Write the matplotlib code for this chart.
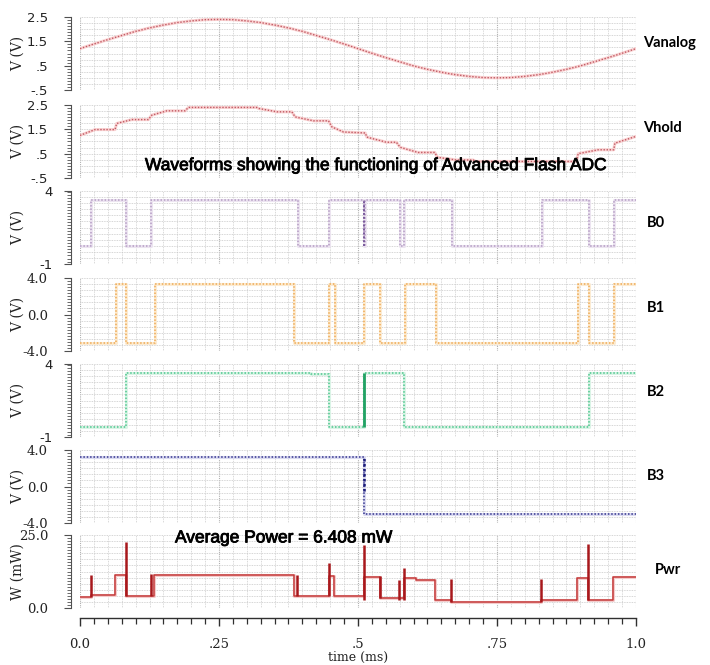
import numpy as np
import matplotlib
matplotlib.use("Agg")
import matplotlib.pyplot as plt
import matplotlib.patheffects as pe
from matplotlib.ticker import FixedLocator, MultipleLocator

# ---- data (time in ms) ----
vanalog_t = [0.0, 0.025, 0.05, 0.075, 0.1, 0.125, 0.15, 0.175, 0.2, 0.225,
             0.25, 0.275, 0.3, 0.325, 0.35, 0.375, 0.4, 0.425, 0.45, 0.475,
             0.5, 0.525, 0.55, 0.575, 0.6, 0.625, 0.65, 0.675, 0.7, 0.725,
             0.75, 0.775, 0.8, 0.825, 0.85, 0.875, 0.9, 0.925, 0.95, 0.975, 1.0]
vanalog_v = [1.20, 1.39, 1.57, 1.74, 1.91, 2.05, 2.17, 2.27, 2.34, 2.39,
             2.40, 2.39, 2.34, 2.27, 2.17, 2.05, 1.91, 1.74, 1.57, 1.39,
             1.20, 1.01, 0.83, 0.66, 0.49, 0.35, 0.23, 0.13, 0.06, 0.01,
             0.00, 0.01, 0.06, 0.13, 0.23, 0.35, 0.49, 0.66, 0.83, 1.01, 1.20]

vhold_t = [0.000, 0.027, 0.063, 0.066, 0.093, 0.123, 0.129, 0.156, 0.189, 0.195,
           0.318, 0.321, 0.354, 0.381, 0.387, 0.420, 0.447, 0.453, 0.474, 0.513,
           0.516, 0.551, 0.569, 0.576, 0.608, 0.638, 0.643, 0.677, 0.707, 0.712,
           0.893, 0.896, 0.932, 0.960, 0.962, 1.000]
vhold_v = [1.25, 1.49, 1.49, 1.74, 1.90, 1.90, 2.08, 2.26, 2.26, 2.40,
           2.40, 2.36, 2.22, 2.22, 2.01, 1.85, 1.85, 1.60, 1.39, 1.35,
           1.18, 0.97, 0.97, 0.76, 0.55, 0.55, 0.35, 0.24, 0.24, 0.18,
           0.18, 0.50, 0.66, 0.66, 0.93, 1.21]

b0_t = [0.0, 0.020, 0.082, 0.128, 0.392, 0.447, 0.510, 0.512, 0.576, 0.583,
        0.669, 0.831, 0.916, 0.960, 1.0]
b0_v = [0.2, 3.4, 0.2, 3.4, 0.2, 3.4, 0.2, 3.4, 0.2, 3.4,
        0.2, 3.4, 0.2, 3.4, 3.4]

b1_t = [0.0, 0.064, 0.082, 0.134, 0.384, 0.448, 0.458, 0.510, 0.539, 0.585,
        0.640, 0.896, 0.916, 0.961, 1.0]
b1_v = [-3.1, 3.3, -3.1, 3.3, -3.1, 3.3, -3.1, 3.3, -3.1, 3.3,
        -3.1, 3.3, -3.1, 3.3, 3.3]

b2_t = [0.0, 0.082, 0.416, 0.447, 0.511, 0.583, 0.916, 1.0]
b2_v = [-0.3, 3.4, 3.3, -0.3, 3.4, -0.3, 3.4, 3.4]

b3_t = [0.0, 0.511, 1.0]
b3_v = [3.25, -3.0, -3.0]

# power: step levels plus short spikes
pwr_t = [0.0, 0.019, 0.063, 0.083, 0.133, 0.384, 0.447, 0.457, 0.511, 0.540,
         0.582, 0.605, 0.638, 0.668, 0.830, 0.893, 0.914, 0.959, 1.0]
pwr_v = [3.6, 4.3, 11.3, 4.0, 11.3, 4.0, 11.0, 4.2, 10.5, 3.3,
         10.2, 9.6, 2.9, 2.2, 2.9, 10.2, 2.9, 10.5, 10.5]
spike_t = [0.019, 0.083, 0.127, 0.391, 0.447, 0.511, 0.540, 0.573, 0.582, 0.668, 0.830, 0.914]
spike_lo = [3.6, 4.0, 4.0, 4.0, 4.0, 2.7, 3.3, 2.7, 2.7, 2.2, 2.2, 2.7]
spike_hi = [11.3, 22.7, 11.5, 11.3, 15.5, 21.6, 11.0, 9.6, 13.8, 9.8, 10.0, 21.9]

names = ["Vanalog", "Vhold", "B0", "B1", "B2", "B3", "Pwr"]

# ---- layout (pixels of the 710x665 figure) ----
W, H = 710, 665
fig = plt.figure(figsize=(W / 100, H / 100), dpi=100)
x0_px, w_px, h_px = 80, 556, 73
tops = [17, 105, 191, 278, 364, 450, 535]

axes = []
for top in tops:
    ax = fig.add_axes([x0_px / W, 1 - (top + h_px) / H, w_px / W, h_px / H])
    axes.append(ax)

ylims = [(-0.5, 2.5), (-0.5, 2.5), (-1, 4), (-4, 4), (-1, 4), (-4, 4), (0, 25)]
yticks = [[2.5, 1.5, 0.5, -0.5], [2.5, 1.5, 0.5, -0.5], [4, -1], [4, 0, -4],
          [4, -1], [4, 0, -4], [25, 0]]
ylabels_txt = [["2.5", "1.5", ".5", "-.5"], ["2.5", "1.5", ".5", "-.5"], ["4", "-1"],
               ["4.0", "0.0", "-4.0"], ["4", "-1"], ["4.0", "0.0", "-4.0"], ["25.0", "0.0"]]
name_y = [0.65, 0.69, 0.56, 0.59, 0.61, 0.64, 0.52]
name_x = [643, 643, 647, 647, 647, 647, 655]

for i, ax in enumerate(axes):
    lo, hi = ylims[i]
    ax.set_xlim(0, 1.0)
    ax.set_ylim(lo, hi)
    # background grid
    for gx in np.arange(0, 1.0001, 0.025):
        major = abs(gx / 0.25 - round(gx / 0.25)) < 1e-6
        ax.axvline(gx, color="#b0b0b0" if major else "#cccccc",
                   lw=0.8 if major else 0.6, ls=(0, (1, 1)), zorder=0)
    for gy in np.linspace(lo, hi, 13):
        ax.axhline(gy, color="#c8c8c8", lw=0.6, ls=(0, (1, 1)), zorder=0)

    for s in ["top", "right", "bottom"]:
        ax.spines[s].set_visible(False)
    ax.spines["left"].set_position(("outward", 6.5))
    ax.spines["left"].set_color("#505050")
    ax.spines["left"].set_linewidth(0.8)

    ax.yaxis.set_major_locator(FixedLocator(yticks[i]))
    ax.yaxis.set_minor_locator(MultipleLocator((hi - lo) / 24))
    ax.set_yticklabels(ylabels_txt[i])
    serif = ylabels_txt[i][0].endswith(".0")
    ax.tick_params(axis="y", which="major", length=5, width=0.8, color="#505050",
                   labelsize=9.5, pad=11.5 if not ylabels_txt[i][0] == "4" else 8)
    ax.tick_params(axis="y", which="minor", length=3, width=0.6, color="#505050")
    for lab in ax.get_yticklabels():
        lab.set_family("DejaVu Serif" if serif else "DejaVu Sans")
        lab.set_color("#222222")

    ax.set_ylabel("W (mW)" if i == 6 else "V (V)", family="DejaVu Serif",
                  fontsize=10, color="#222222")
    ax.yaxis.set_label_coords(-0.099, 0.5)

    if i < 6:
        ax.tick_params(axis="x", which="both", bottom=False, labelbottom=False)

    ax.text((name_x[i] - x0_px) / w_px, name_y[i], names[i], transform=ax.transAxes,
            family="Lato", fontweight="bold", fontsize=10.5, va="center", ha="left")

# Vanalog / Vhold
for ax, tt, vv in [(axes[0], vanalog_t, vanalog_v), (axes[1], vhold_t, vhold_v)]:
    ax.plot(tt, vv, color="#f9d2d2", lw=2.2, zorder=2)
    ax.plot(tt, vv, color="#c05a64", lw=1.0, ls=(0, (1, 1.2)), zorder=3)

# digital bits
bits = [(axes[2], b0_t, b0_v, "#ece4f0", "#b49cc4"),
        (axes[3], b1_t, b1_v, "#fcebd2", "#eeaa55"),
        (axes[4], b2_t, b2_v, "#daf4e6", "#4cc68e"),
        (axes[5], b3_t, b3_v, "#dadaf0", "#34348e")]
for ax, tt, vv, glow, col in bits:
    ax.plot(tt, vv, drawstyle="steps-post", color=glow, lw=2.2, zorder=2)
    ax.plot(tt, vv, drawstyle="steps-post", color=col, lw=1.1,
            ls=(0, (1, 1.2)), zorder=3)
axes[2].vlines([0.511], [0.2], [3.4], color="#7a5a9c", lw=1.4, ls=(0, (1, 1)), zorder=4)
axes[4].vlines([0.511], [-0.3], [3.4], color="#22a264", lw=2.0, zorder=4)
axes[5].vlines([0.511], [-0.5], [3.25], color="#1c1c78", lw=1.8, ls=(0, (1, 1)), zorder=4)

# power
axp = axes[6]
axp.plot(pwr_t, pwr_v, drawstyle="steps-post", color="#f4cccc", lw=2.2, zorder=2)
axp.plot(pwr_t, pwr_v, drawstyle="steps-post", color="#c43a3a", lw=1.1, zorder=3)
axp.vlines(spike_t, spike_lo, spike_hi, color="#a8181c", lw=1.8, zorder=4)

# bottom time axis
axp.spines["bottom"].set_visible(True)
axp.spines["bottom"].set_position(("outward", 7.5))
axp.spines["bottom"].set_color("#303030")
axp.spines["bottom"].set_linewidth(1.0)
axp.xaxis.set_major_locator(FixedLocator([0, 0.25, 0.5, 0.75, 1.0]))
axp.xaxis.set_minor_locator(MultipleLocator(0.025))
axp.set_xticklabels(["0.0", ".25", ".5", ".75", "1.0"])
axp.tick_params(axis="x", which="major", length=6, width=1.0, color="#303030",
                labelsize=9.5, pad=8)
axp.tick_params(axis="x", which="minor", length=4, width=0.9, color="#303030")
for lab in axp.get_xticklabels():
    lab.set_family("DejaVu Serif")
    lab.set_color("#222222")
axp.set_xlabel("time (ms)", family="DejaVu Serif", fontsize=9, color="#222222")
axp.xaxis.set_label_coords(0.5, -(657 - 608) / h_px)
axp.xaxis.label.set_va("center")

# annotations
stroke = [pe.withStroke(linewidth=0.6, foreground="black")]
axes[1].text((145 - x0_px) / w_px, 0.17,
             "Waveforms showing the functioning of Advanced Flash ADC",
             transform=axes[1].transAxes, family="Liberation Sans", fontsize=12.5,
             va="center", ha="left", path_effects=stroke, zorder=6)
axp.text((175 - x0_px) / w_px, 0.96, "Average Power = 6.408 mW",
         transform=axp.transAxes, family="Liberation Sans", fontsize=12.5,
         va="center", ha="left", path_effects=stroke, zorder=6)

fig.savefig("out.png", dpi=100, facecolor="white")
